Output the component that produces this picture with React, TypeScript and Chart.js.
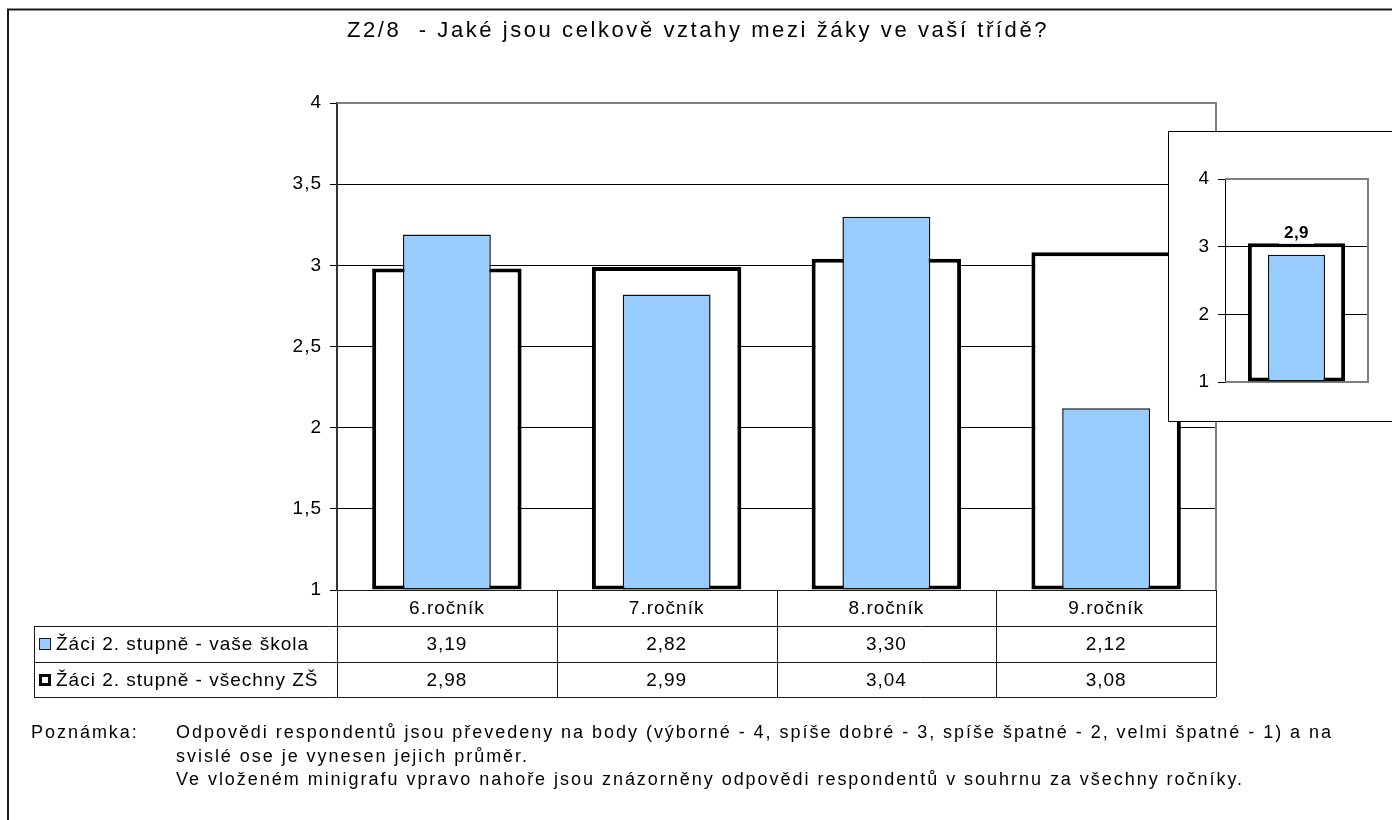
import React, { useEffect, useRef } from "react";
import { Chart, registerables } from "chart.js";

Chart.register(...registerables);

// ---------- data ----------
const categories = ["6.ročník", "7.ročník", "8.ročník", "9.ročník"];
const seriesNames = ["Žáci 2. stupně - vaše škola", "Žáci 2. stupně - všechny ZŠ"];
const seriesSchool = [3.19, 2.82, 3.3, 2.12];
const seriesAll = [2.98, 2.99, 3.04, 3.08];
const yTicks = [1, 1.5, 2, 2.5, 3, 3.5, 4];

const miniCategories = ["celkem"];
const miniSchool = [2.88];
const miniAll = [3.05];
const miniTicks = [1, 2, 3, 4];

const titleText = "Z2/8  - Jaké jsou celkově vztahy mezi žáky ve vaší třídě?";
const noteLabel = "Poznámka:";
const noteLines = [
  "Odpovědi respondentů jsou převedeny na body (výborné - 4, spíše dobré - 3, spíše špatné - 2, velmi špatné - 1) a na",
  "svislé ose je vynesen jejich průměr.",
  "Ve vloženém minigrafu vpravo nahoře jsou znázorněny odpovědi respondentů v souhrnu za všechny ročníky.",
];

// ---------- styles ----------
const FONT = '"Liberation Sans", Arial, Helvetica, sans-serif';
const BLUE = "#99CCFF";
const GREY = "#808080";
const LBL_SIZE = 19;
const LBL_SP = "1px";

const fmtTick = (v: number) => String(v).replace(".", ",");
const fmt2 = (v: number) => v.toFixed(2).replace(".", ",");
const fmt1 = (v: number) => v.toFixed(1).replace(".", ",");

function fitSpacing(ctx: CanvasRenderingContext2D, text: string, font: string, target: number) {
  ctx.save();
  ctx.font = font;
  (ctx as any).letterSpacing = "0px";
  const w = ctx.measureText(text).width;
  ctx.restore();
  return Math.max(0, (target - w) / text.length);
}

const spacingPlugin = {
  id: "spacing",
  beforeLayout(chart: any) {
    chart.ctx.letterSpacing = LBL_SP;
  },
  beforeDraw(chart: any) {
    chart.ctx.letterSpacing = LBL_SP;
  },
};

const frameMain = {
  id: "frameMain",
  beforeDatasetsDraw(chart: any) {
    const { ctx, chartArea: a } = chart;
    ctx.save();
    ctx.strokeStyle = GREY;
    ctx.lineWidth = 2;
    ctx.beginPath();
    ctx.moveTo(a.left, a.top);
    ctx.lineTo(a.right, a.top);
    ctx.lineTo(a.right, a.bottom);
    ctx.stroke();
    ctx.restore();
  },
};

const tablePlugin = {
  id: "dataTable",
  afterDraw(chart: any) {
    const { ctx, chartArea: a } = chart;
    const n = categories.length;
    const cw = (a.right - a.left) / n;
    const tableLeft = 34;
    const y0 = a.bottom;
    const y1 = y0 + 36;
    const y2 = y1 + 36;
    const y3 = y2 + 35;
    ctx.save();
    ctx.strokeStyle = "#1a1a1a";
    ctx.lineWidth = 1;
    ctx.beginPath();
    ctx.moveTo(a.left, y0 + 0.5);
    ctx.lineTo(a.right, y0 + 0.5);
    [y1, y2, y3].forEach((y) => {
      ctx.moveTo(tableLeft, y + 0.5);
      ctx.lineTo(a.right, y + 0.5);
    });
    ctx.moveTo(tableLeft + 0.5, y1);
    ctx.lineTo(tableLeft + 0.5, y3);
    for (let i = 0; i <= n; i++) {
      const x = Math.round(a.left + i * cw) + 0.5;
      ctx.moveTo(x, y0);
      ctx.lineTo(x, y3);
    }
    ctx.stroke();

    ctx.font = `${LBL_SIZE}px ${FONT}`;
    ctx.letterSpacing = LBL_SP;
    ctx.fillStyle = "#000";
    ctx.textAlign = "center";
    ctx.textBaseline = "middle";
    const xs = chart.scales.x;
    categories.forEach((c, i) => {
      const cx = xs.getPixelForValue(i);
      ctx.fillText(c, cx, (y0 + y1) / 2 + 1);
      ctx.fillText(fmt2(seriesSchool[i]), cx, (y1 + y2) / 2 + 1);
      ctx.fillText(fmt2(seriesAll[i]), cx, (y2 + y3) / 2 + 1);
    });
    ctx.textAlign = "left";
    const rows = [
      [y1, y2],
      [y2, y3],
    ];
    rows.forEach(([ta, tb], k) => {
      const cy = (ta + tb) / 2;
      const sx = 39;
      const sy = Math.round(cy - 6);
      if (k === 0) {
        ctx.fillStyle = "#1a1a1a";
        ctx.fillRect(sx, sy, 12, 12);
        ctx.fillStyle = BLUE;
        ctx.fillRect(sx + 1, sy + 1, 10, 10);
      } else {
        ctx.fillStyle = "#000";
        ctx.fillRect(sx, sy, 12, 12);
        ctx.fillStyle = "#fff";
        ctx.fillRect(sx + 3, sy + 3, 6, 6);
      }
      ctx.fillStyle = "#000";
      ctx.fillText(seriesNames[k], sx + 17, cy + 1);
    });
    ctx.restore();
  },
};

const textsPlugin = {
  id: "texts",
  afterDraw(chart: any) {
    const { ctx } = chart;
    ctx.save();
    ctx.strokeStyle = "#1a1a1a";
    ctx.lineWidth = 2;
    ctx.beginPath();
    ctx.moveTo(8, 820);
    ctx.lineTo(8, 9.5);
    ctx.lineTo(1392, 9.5);
    ctx.stroke();

    const tFont = `22px ${FONT}`;
    const tSp = fitSpacing(ctx, titleText, tFont, 702);
    ctx.font = tFont;
    ctx.letterSpacing = `${tSp}px`;
    ctx.fillStyle = "#000";
    ctx.textAlign = "center";
    ctx.textBaseline = "middle";
    ctx.fillText(titleText, 698, 31);

    const nFont = `18px ${FONT}`;
    const nSp = fitSpacing(ctx, noteLines[0], nFont, 1157);
    ctx.font = nFont;
    ctx.letterSpacing = `${nSp}px`;
    ctx.textAlign = "left";
    ctx.fillText(noteLabel, 31, 733);
    const ys = [733, 757, 780];
    noteLines.forEach((l, i) => ctx.fillText(l, 176, ys[i]));
    ctx.restore();
  },
};

const frameMini = {
  id: "frameMini",
  beforeDatasetsDraw(chart: any) {
    const { ctx, chartArea: a } = chart;
    ctx.save();
    ctx.strokeStyle = GREY;
    ctx.lineWidth = 2;
    ctx.beginPath();
    ctx.moveTo(a.left, a.top);
    ctx.lineTo(a.right, a.top);
    ctx.lineTo(a.right, a.bottom);
    ctx.lineTo(a.left, a.bottom);
    ctx.stroke();
    ctx.restore();
  },
  afterDraw(chart: any) {
    const { ctx, width, height } = chart;
    ctx.save();
    ctx.strokeStyle = "#000";
    ctx.lineWidth = 1;
    ctx.beginPath();
    ctx.moveTo(width, 0.5);
    ctx.lineTo(0.5, 0.5);
    ctx.lineTo(0.5, height - 0.5);
    ctx.lineTo(width, height - 0.5);
    ctx.stroke();
    ctx.restore();
  },
  afterDatasetsDraw(chart: any) {
    const { ctx } = chart;
    const meta = chart.getDatasetMeta(0);
    ctx.save();
    ctx.font = `bold 17px ${FONT}`;
    ctx.letterSpacing = "0.5px";
    ctx.textAlign = "center";
    ctx.textBaseline = "middle";
    meta.data.forEach((bar: any, i: number) => {
      const txt = fmt1(miniSchool[i]);
      const w = ctx.measureText(txt).width;
      const cy = bar.y - 21;
      ctx.fillStyle = "#fff";
      ctx.fillRect(bar.x - w / 2 - 5, cy - 10, w + 10, 20);
      ctx.fillStyle = "#000";
      ctx.fillText(txt, bar.x, cy);
    });
    ctx.restore();
  },
};

function barDatasets(school: number[], all: number[]) {
  return [
    {
      label: seriesNames[0],
      data: school,
      backgroundColor: BLUE,
      borderColor: "#111",
      borderWidth: 1.5,
      borderSkipped: false,
      grouped: false,
      base: 1,
      categoryPercentage: 1,
      barPercentage: 0.4,
    },
    {
      label: seriesNames[1],
      data: all,
      backgroundColor: "#fff",
      borderColor: "#000",
      borderWidth: 4,
      borderSkipped: false,
      grouped: false,
      base: 1,
      categoryPercentage: 1,
      barPercentage: 0.68,
    },
  ];
}

export default function App() {
  const mainRef = useRef<HTMLCanvasElement>(null);
  const miniRef = useRef<HTMLCanvasElement>(null);

  useEffect(() => {
    const main = new Chart(mainRef.current!, {
      type: "bar",
      data: { labels: categories, datasets: barDatasets(seriesSchool, seriesAll) as any },
      plugins: [spacingPlugin, frameMain, tablePlugin, textsPlugin],
      options: {
        responsive: false,
        animation: false,
        devicePixelRatio: 1,
        layout: { padding: { left: 337 - 70, top: 103, right: 1392 - 1216, bottom: 820 - 590 } },
        plugins: { legend: { display: false }, title: { display: false }, tooltip: { enabled: false } },
        scales: {
          x: { type: "category", display: false, offset: true },
          y: {
            min: 1,
            max: 4,
            afterFit: (s: any) => {
              s.width = 70;
            },
            afterBuildTicks: (s: any) => {
              s.ticks = yTicks.map((v) => ({ value: v }));
            },
            ticks: {
              font: { family: FONT, size: LBL_SIZE },
              color: "#000",
              padding: 8,
              callback: (v: any) => fmtTick(Number(v)),
            },
            grid: {
              color: (c: any) => (c.tick && c.tick.value === 4 ? "rgba(0,0,0,0)" : "#000"),
              tickColor: "#000",
              lineWidth: 1,
              tickLength: 7,
            },
            border: { display: true, color: "#333", width: 2 },
          },
        },
      } as any,
    });

    const mini = new Chart(miniRef.current!, {
      type: "bar",
      data: { labels: miniCategories, datasets: barDatasets(miniSchool, miniAll) as any },
      plugins: [spacingPlugin, frameMini],
      options: {
        responsive: false,
        animation: false,
        devicePixelRatio: 1,
        layout: { padding: { left: 57 - 50, top: 48, right: 224 - 200, bottom: 291 - 251 } },
        plugins: { legend: { display: false }, title: { display: false }, tooltip: { enabled: false } },
        scales: {
          x: { type: "category", display: false, offset: true },
          y: {
            min: 1,
            max: 4,
            afterFit: (s: any) => {
              s.width = 50;
            },
            afterBuildTicks: (s: any) => {
              s.ticks = miniTicks.map((v) => ({ value: v }));
            },
            ticks: {
              font: { family: FONT, size: LBL_SIZE },
              color: "#000",
              padding: 8,
              callback: (v: any) => fmtTick(Number(v)),
            },
            grid: {
              color: (c: any) =>
                c.tick && (c.tick.value === 4 || c.tick.value === 1) ? "rgba(0,0,0,0)" : "#000",
              tickColor: "#000",
              lineWidth: 1,
              tickLength: 7,
            },
            border: { display: true, color: "#000", width: 1 },
          },
        },
      } as any,
    });

    return () => {
      main.destroy();
      mini.destroy();
    };
  }, []);

  return (
    <div
      style={{
        position: "absolute",
        left: 0,
        top: 0,
        width: 1392,
        height: 820,
        background: "#fff",
        overflow: "hidden",
      }}
    >
      <canvas ref={mainRef} width={1392} height={820} style={{ position: "absolute", left: 0, top: 0 }} />
      <canvas
        ref={miniRef}
        width={224}
        height={291}
        style={{ position: "absolute", left: 1168, top: 131, background: "#fff" }}
      />
    </div>
  );
}
